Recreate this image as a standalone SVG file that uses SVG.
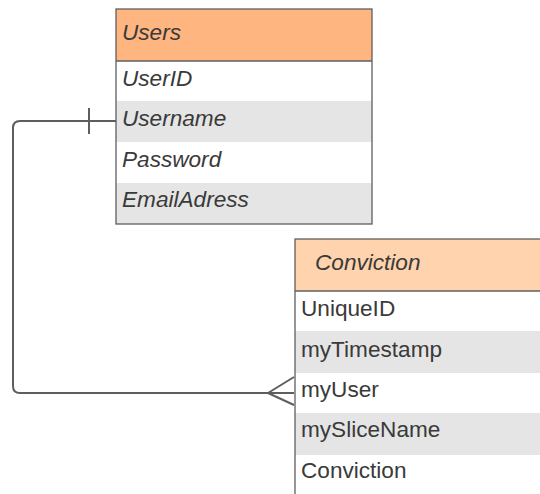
<svg xmlns="http://www.w3.org/2000/svg" width="540" height="494" viewBox="0 0 540 494">
  <style>
    .frame { fill: none; stroke: #5f5f5f; stroke-width: 1.3; }
    .row-alt { fill: #e5e5e5; }
    .row { fill: #ffffff; }
    .sep { stroke: #5f5f5f; stroke-width: 1.3; }
    .txt { font-family: "Liberation Sans", Arial, sans-serif; font-size: 22.6px; fill: #3a3a3a; }
    .it { font-style: italic; }
    .link { fill: none; stroke: #5e5e5e; stroke-width: 2; stroke-linejoin: round; }
  </style>
  <rect width="540" height="494" fill="#ffffff"/>

  <!-- Users entity -->
  <g id="users">
    <rect x="116" y="9" width="256" height="52" fill="#ffb580"/>
    <rect class="row" x="116" y="61" width="256" height="40"/>
    <rect class="row-alt" x="116" y="101" width="256" height="41"/>
    <rect class="row" x="116" y="142" width="256" height="41"/>
    <rect class="row-alt" x="116" y="183" width="256" height="41"/>
    <line class="sep" x1="116" y1="61" x2="372" y2="61"/>
    <rect class="frame" x="116" y="9" width="256" height="215"/>
    <text class="txt it" x="122" y="40">Users</text>
    <text class="txt it" x="122" y="86">UserID</text>
    <text class="txt it" x="122" y="126">Username</text>
    <text class="txt it" x="122" y="167">Password</text>
    <text class="txt it" x="122" y="207">EmailAdress</text>
  </g>

  <!-- Conviction entity (runs past the right and bottom edges) -->
  <g id="conviction">
    <rect x="295" y="239" width="260" height="52" fill="#ffd3ad"/>
    <rect class="row" x="295" y="291" width="260" height="40"/>
    <rect class="row-alt" x="295" y="331" width="260" height="42"/>
    <rect class="row" x="295" y="373" width="260" height="40"/>
    <rect class="row-alt" x="295" y="413" width="260" height="42"/>
    <rect class="row" x="295" y="455" width="260" height="50"/>
    <line class="sep" x1="295" y1="291" x2="555" y2="291"/>
    <rect class="frame" x="295" y="239" width="260" height="280"/>
    <text class="txt it" x="315" y="270">Conviction</text>
    <text class="txt" x="301" y="316">UniqueID</text>
    <text class="txt" x="301" y="357">myTimestamp</text>
    <text class="txt" x="301" y="397">myUser</text>
    <text class="txt" x="301" y="437">mySliceName</text>
    <text class="txt" x="301" y="478">Conviction</text>
  </g>

  <!-- relationship: one Users.Username to many Conviction.myUser -->
  <g id="connectors">
    <path class="link" d="M116 121 H20 Q13 121 13 128 V386 Q13 393 20 393 H294"/>
    <line class="link" x1="89" y1="108" x2="89" y2="134"/>
    <path class="link" d="M294 377 L268 393 L294 405"/>
  </g>
</svg>
